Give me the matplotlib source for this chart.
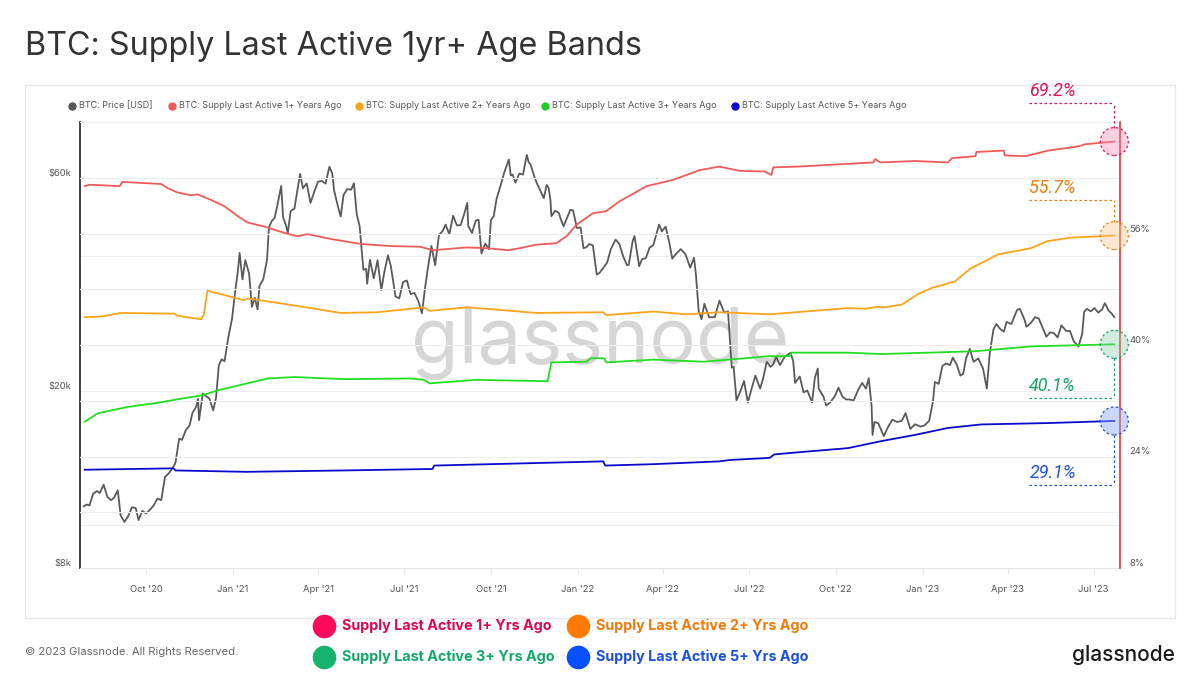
import matplotlib
matplotlib.use("Agg")
import matplotlib.pyplot as plt
import matplotlib.dates as mdates
import pandas as pd
from matplotlib.lines import Line2D
from matplotlib.patches import Rectangle
from matplotlib.transforms import IdentityTransform, blended_transform_factory

plt.rcParams['font.family'] = ['Inter', 'DejaVu Sans']

# ---------------- data ----------------
price_dates = [
    "2020-07-27", "2020-07-30", "2020-08-02", "2020-08-06", "2020-08-10", "2020-08-13", "2020-08-17", "2020-08-21",
    "2020-08-25", "2020-08-28", "2020-09-01", "2020-09-04", "2020-09-08", "2020-09-12", "2020-09-16", "2020-09-20",
    "2020-09-23", "2020-09-27", "2020-10-01", "2020-10-05", "2020-10-09", "2020-10-13", "2020-10-17", "2020-10-21",
    "2020-10-25", "2020-10-28", "2020-11-01", "2020-11-05", "2020-11-08", "2020-11-12", "2020-11-16", "2020-11-19",
    "2020-11-23", "2020-11-25", "2020-11-26", "2020-11-30", "2020-12-03", "2020-12-07", "2020-12-11", "2020-12-14",
    "2020-12-17", "2020-12-20", "2020-12-23", "2020-12-27", "2020-12-31",
    "2021-01-03", "2021-01-06", "2021-01-08", "2021-01-11", "2021-01-14", "2021-01-18", "2021-01-21", "2021-01-24",
    "2021-01-27", "2021-01-29", "2021-02-02", "2021-02-06", "2021-02-08", "2021-02-11", "2021-02-14", "2021-02-17",
    "2021-02-21", "2021-02-23", "2021-02-26", "2021-02-28", "2021-03-03", "2021-03-07", "2021-03-10", "2021-03-13",
    "2021-03-16", "2021-03-20", "2021-03-24", "2021-03-28", "2021-04-01", "2021-04-05", "2021-04-09", "2021-04-13",
    "2021-04-16", "2021-04-18", "2021-04-22", "2021-04-25", "2021-04-28", "2021-05-02", "2021-05-06", "2021-05-09",
    "2021-05-12", "2021-05-15", "2021-05-19", "2021-05-22", "2021-05-23", "2021-05-26", "2021-05-30", "2021-06-03",
    "2021-06-07", "2021-06-10", "2021-06-14", "2021-06-17", "2021-06-22", "2021-06-26", "2021-06-30", "2021-07-04",
    "2021-07-08", "2021-07-12", "2021-07-16", "2021-07-20", "2021-07-23", "2021-07-26", "2021-07-30", "2021-08-03",
    "2021-08-07", "2021-08-11", "2021-08-14", "2021-08-18", "2021-08-22", "2021-08-26", "2021-08-30", "2021-09-03",
    "2021-09-06", "2021-09-07", "2021-09-11", "2021-09-15", "2021-09-18", "2021-09-21", "2021-09-25", "2021-09-29",
    "2021-10-01", "2021-10-04", "2021-10-07", "2021-10-11", "2021-10-15", "2021-10-20", "2021-10-22", "2021-10-24",
    "2021-10-27", "2021-10-31", "2021-11-04", "2021-11-08", "2021-11-10", "2021-11-12", "2021-11-16", "2021-11-19",
    "2021-11-22", "2021-11-26", "2021-11-29", "2021-12-01", "2021-12-03", "2021-12-04", "2021-12-08", "2021-12-12",
    "2021-12-14", "2021-12-17", "2021-12-21", "2021-12-24", "2021-12-27", "2021-12-31",
    "2022-01-04", "2022-01-07", "2022-01-10", "2022-01-13", "2022-01-17", "2022-01-21", "2022-01-24", "2022-01-28",
    "2022-02-01", "2022-02-05", "2022-02-10", "2022-02-14", "2022-02-18", "2022-02-22", "2022-02-24", "2022-02-28",
    "2022-03-02", "2022-03-07", "2022-03-10", "2022-03-14", "2022-03-18", "2022-03-22", "2022-03-28", "2022-03-31",
    "2022-04-04", "2022-04-08", "2022-04-11", "2022-04-15", "2022-04-20", "2022-04-25", "2022-04-30", "2022-05-04",
    "2022-05-06", "2022-05-09", "2022-05-12", "2022-05-15", "2022-05-20", "2022-05-26", "2022-05-31", "2022-06-05",
    "2022-06-09", "2022-06-13", "2022-06-15", "2022-06-18", "2022-06-22", "2022-06-26", "2022-06-30", "2022-07-04",
    "2022-07-08", "2022-07-13", "2022-07-16", "2022-07-20", "2022-07-24", "2022-07-27", "2022-07-30", "2022-08-03",
    "2022-08-08", "2022-08-14", "2022-08-17", "2022-08-19", "2022-08-24", "2022-08-28", "2022-09-01", "2022-09-06",
    "2022-09-09", "2022-09-12", "2022-09-13", "2022-09-18", "2022-09-21", "2022-09-25", "2022-09-30", "2022-10-04",
    "2022-10-08", "2022-10-12", "2022-10-15", "2022-10-20", "2022-10-25", "2022-10-29", "2022-11-02", "2022-11-05",
    "2022-11-08", "2022-11-09", "2022-11-11", "2022-11-15", "2022-11-21", "2022-11-25", "2022-11-30", "2022-12-05",
    "2022-12-10", "2022-12-14", "2022-12-19", "2022-12-24", "2022-12-30",
    "2023-01-03", "2023-01-08", "2023-01-12", "2023-01-14", "2023-01-18", "2023-01-22", "2023-01-26", "2023-01-30",
    "2023-02-02", "2023-02-06", "2023-02-10", "2023-02-13", "2023-02-16", "2023-02-20", "2023-02-24", "2023-03-01",
    "2023-03-06", "2023-03-10", "2023-03-13", "2023-03-17", "2023-03-20", "2023-03-24", "2023-03-28", "2023-03-31",
    "2023-04-05", "2023-04-11", "2023-04-14", "2023-04-19", "2023-04-21", "2023-04-26", "2023-04-30", "2023-05-04",
    "2023-05-08", "2023-05-12", "2023-05-16", "2023-05-20", "2023-05-24", "2023-05-28", "2023-06-02", "2023-06-06",
    "2023-06-10", "2023-06-15", "2023-06-19", "2023-06-21", "2023-06-24", "2023-06-28", "2023-07-02", "2023-07-06",
    "2023-07-10", "2023-07-13", "2023-07-17", "2023-07-20", "2023-07-23",
]
price_values = [
    11000, 11100, 11050, 11750, 11900, 11780, 12300, 11550,
    11350, 11500, 11950, 10500, 10150, 10450, 10950, 10900,
    10250, 10750, 10600, 10800, 11050, 11450, 11350, 12800,
    13050, 13300, 13750, 15600, 15500, 16300, 16700, 17800,
    18400, 19150, 17150, 19700, 19450, 19200, 18050, 19250,
    22800, 23500, 23250, 26300, 29000,
    33000, 36800, 40700, 35500, 39200, 36600, 30800, 32300,
    30400, 34300, 35500, 39300, 46400, 48000, 48700, 52100,
    57500, 48900, 47000, 45100, 50500, 51200, 55900, 61200,
    56800, 58300, 52700, 55800, 58800, 59000, 58200, 63500,
    61400, 56200, 51800, 49100, 54900, 56600, 56400, 58300,
    49600, 46800, 37300, 37500, 34700, 39300, 35700, 39200,
    33600, 36700, 40200, 38100, 32500, 32200, 35000, 35300,
    32900, 33100, 31800, 29800, 33600, 37300, 42200, 38200,
    44600, 45600, 47100, 44800, 49300, 46900, 47000, 50000,
    52700, 46800, 45100, 48100, 48300, 40600, 42700, 41500,
    48200, 49200, 53800, 57400, 61500, 65900, 60700, 61000,
    58500, 61300, 61000, 67500, 65000, 64200, 60300, 58100,
    56300, 54000, 57800, 57000, 53600, 49200, 50600, 50000,
    48400, 46700, 49000, 50800, 50700, 46300,
    46400, 41700, 41900, 42600, 42300, 36400, 36700, 37700,
    38700, 41500, 43600, 42600, 40000, 38200, 38300, 43200,
    44400, 38000, 39400, 39600, 41800, 42400, 47100, 45500,
    46600, 42800, 39500, 40500, 41500, 40400, 37700, 39700,
    36500, 30100, 28900, 31300, 29200, 29200, 31800, 29900,
    30100, 22500, 22600, 19000, 19900, 21000, 18800, 20200,
    21600, 20200, 21200, 23200, 22600, 22900, 23800, 22800,
    23800, 24300, 23300, 20800, 21500, 19800, 20000, 18800,
    21400, 22400, 20200, 19400, 18500, 18800, 19400, 20300,
    19400, 19100, 19100, 19000, 20100, 20800, 20200, 21300,
    18500, 15900, 17000, 16900, 15800, 16500, 17200, 17000,
    17100, 17800, 16400, 16800, 16600,
    16700, 17100, 18900, 20900, 20700, 22700, 23000, 22800,
    23700, 22900, 21600, 21800, 23600, 24800, 23200, 23600,
    22400, 20200, 24100, 27400, 28200, 27500, 27100, 28500,
    28200, 30300, 30500, 28800, 27800, 28400, 29200, 29000,
    27700, 26400, 27000, 26900, 26300, 28000, 27200, 27200,
    25800, 25100, 26800, 30000, 30500, 30100, 30600, 29900,
    30400, 31400, 30200, 29800, 29200,
]

s1_dates = ["2020-07-28", "2020-08-02", "2020-09-03", "2020-09-06", "2020-10-17", "2020-10-24", "2020-11-03",
            "2020-11-17", "2020-11-25", "2020-12-09", "2020-12-23", "2021-01-06", "2021-01-16", "2021-02-03",
            "2021-02-24", "2021-03-10", "2021-03-21", "2021-04-15", "2021-05-16", "2021-06-17", "2021-07-18",
            "2021-08-01", "2021-09-05", "2021-09-26", "2021-10-19", "2021-11-01", "2021-11-18", "2021-12-09",
            "2021-12-20", "2021-12-31", "2022-01-17", "2022-01-31", "2022-02-14", "2022-03-15", "2022-04-12",
            "2022-04-26", "2022-05-10", "2022-05-31", "2022-06-21", "2022-07-18", "2022-07-25", "2022-07-27",
            "2022-08-22", "2022-10-14", "2022-11-10", "2022-11-12", "2022-11-17", "2022-12-24", "2023-01-28",
            "2023-02-01", "2023-02-26", "2023-02-27", "2023-03-28", "2023-03-29", "2023-04-20", "2023-05-14",
            "2023-06-15", "2023-06-22", "2023-07-23"]
s1_values = [62.8, 63.0, 62.8, 63.4, 63.1, 62.5, 61.9,
             61.5, 61.6, 60.8, 59.9, 58.5, 57.6, 57.0,
             56.1, 55.6, 55.9, 55.2, 54.5, 54.2, 54.1,
             53.6, 54.0, 53.9, 53.6, 53.9, 54.4, 54.6,
             55.6, 57.3, 58.9, 59.2, 60.6, 62.8, 63.7,
             64.4, 65.1, 65.6, 65.0, 64.9, 64.4, 65.5,
             65.6, 66.0, 66.2, 66.7, 66.2, 66.4, 66.2,
             66.8, 67.1, 67.7, 67.9, 67.2, 67.1, 67.9,
             68.5, 68.8, 69.2]

s2_dates = ["2020-07-28", "2020-08-15", "2020-09-04", "2020-10-31", "2020-11-03", "2020-11-28", "2020-12-01",
            "2020-12-05", "2021-01-02", "2021-01-13", "2021-01-16", "2021-02-24", "2021-03-24", "2021-04-25",
            "2021-06-03", "2021-07-22", "2021-07-28", "2021-09-05", "2021-09-26", "2021-11-18", "2022-01-28",
            "2022-01-31", "2022-03-22", "2022-04-26", "2022-05-31", "2022-07-23", "2022-10-14", "2022-11-01",
            "2022-11-15", "2022-11-22", "2022-12-10", "2022-12-27", "2023-01-11", "2023-02-04", "2023-02-21",
            "2023-03-22", "2023-04-26", "2023-05-13", "2023-06-07", "2023-07-23"]
s2_values = [44.0, 44.1, 44.6, 44.5, 44.2, 43.7, 44.3,
             47.8, 46.8, 46.4, 46.7, 45.9, 45.3, 44.6,
             44.7, 45.4, 44.9, 45.4, 45.2, 44.6, 44.7,
             44.3, 44.8, 44.4, 44.7, 44.4, 45.3, 45.2,
             45.5, 45.4, 45.8, 47.3, 48.2, 49.1, 51.0,
             53.0, 53.9, 54.9, 55.4, 55.7]

s3_dates = ["2020-07-28", "2020-08-11", "2020-09-11", "2020-10-13", "2020-11-03", "2020-11-30", "2020-12-16",
            "2021-01-13", "2021-02-07", "2021-03-07", "2021-04-29", "2021-07-08", "2021-07-22", "2021-07-28",
            "2021-09-15", "2021-11-30", "2021-12-04", "2022-01-10", "2022-01-15", "2022-01-29", "2022-01-31",
            "2022-03-22", "2022-05-14", "2022-07-23", "2022-08-13", "2022-08-15", "2022-10-14", "2022-11-18",
            "2023-02-25", "2023-04-26", "2023-07-23"]
s3_values = [29.0, 30.2, 31.1, 31.7, 32.2, 32.8, 33.5,
             34.4, 35.2, 35.4, 35.1, 35.2, 35.0, 34.5,
             35.0, 34.8, 37.5, 37.6, 38.1, 38.1, 37.5,
             37.9, 37.6, 38.4, 38.4, 38.9, 38.9, 38.7,
             39.1, 39.8, 40.1]

s5_dates = ["2020-07-28", "2020-10-30", "2020-11-01", "2021-01-15", "2021-04-29", "2021-07-26", "2021-07-31",
            "2021-08-02", "2022-01-28", "2022-01-30", "2022-03-22", "2022-05-31", "2022-06-11", "2022-07-23",
            "2022-07-28", "2022-08-22", "2022-10-14", "2022-11-18", "2022-12-24", "2023-01-28", "2023-03-04",
            "2023-05-14", "2023-07-23"]
s5_values = [22.1, 22.3, 22.0, 21.8, 22.0, 22.2, 22.2,
             22.7, 23.3, 22.7, 22.9, 23.3, 23.5, 23.8,
             24.3, 24.6, 25.2, 26.2, 27.1, 28.1, 28.6,
             28.8, 29.1]

legend_top = ["BTC: Price [USD]", "BTC: Supply Last Active 1+ Years Ago", "BTC: Supply Last Active 2+ Years Ago",
              "BTC: Supply Last Active 3+ Years Ago", "BTC: Supply Last Active 5+ Years Ago"]
legend_bottom = ["Supply Last Active 1+ Yrs Ago", "Supply Last Active 2+ Yrs Ago",
                 "Supply Last Active 3+ Yrs Ago", "Supply Last Active 5+ Yrs Ago"]
end_labels = ["69.2%", "55.7%", "40.1%", "29.1%"]

price_ticks = [8000, 20000, 60000]
price_ticklabels = ["$8k", "$20k", "$60k"]
pct_ticks = [8, 24, 40, 56]
pct_ticklabels = ["8%", "24%", "40%", "56%"]

# ---------------- styling ----------------
W, H = 1200, 691
line_cols = ["#ef5b5b", "#f9a41c", "#22dd22", "#0a0acc"]
price_col = "#5a5a5a"
dot_cols = ["#555555", "#ef5b5b", "#f9a41c", "#22cc22", "#0a0ad0"]
ann_cols = ["#e0125a", "#ef7a10", "#14a566", "#2350de"]
fill_cols = [(0.96, 0.55, 0.72, 0.40), (0.98, 0.78, 0.55, 0.40), (0.55, 0.82, 0.68, 0.40), (0.55, 0.66, 0.94, 0.45)]
leg_circle_cols = ["#ff0a5a", "#ff7a05", "#14b36e", "#0650ff"]
leg_text_cols = ["#e0064f", "#f07a0a", "#12a868", "#1a4fe0"]


def fx(x):
    return x / W


def fy(y):
    return 1 - y / H


fig = plt.figure(figsize=(12, 6.91), dpi=100)
fig.patch.set_facecolor("white")

# card border
fig.add_artist(Rectangle((fx(25), fy(618)), fx(1175) - fx(25), fy(85) - fy(618),
                         transform=fig.transFigure, fill=False, edgecolor="#e8e8e8", lw=1.0))

ax = fig.add_axes([fx(80), fy(568), fx(1120) - fx(80), fy(122) - fy(568)])
ax.set_facecolor("none")
ax2 = ax.twinx()

pd_price = pd.to_datetime(price_dates)
ax.plot(pd_price, price_values, color=price_col, lw=1.3, zorder=3)
ax.set_yscale("log")
ax.set_ylim(8000, 80000)
ax.set_xlim(pd.Timestamp("2020-07-23"), pd.Timestamp("2023-07-29"))
ax.yaxis.set_major_locator(matplotlib.ticker.NullLocator())
ax.yaxis.set_minor_locator(matplotlib.ticker.NullLocator())

series = [(s1_dates, s1_values), (s2_dates, s2_values), (s3_dates, s3_values), (s5_dates, s5_values)]
for (d, v), c in zip(series, line_cols):
    ax2.plot(pd.to_datetime(d), v, color=c, lw=1.3, zorder=4)
ax2.set_ylim(8, 72)
ax2.set_yticks([])

# gridlines
for g in [16, 24, 32, 40, 48, 56, 64, 72]:
    ax2.axhline(g, color="#ededed", lw=0.8, zorder=0)
for g in [10000, 20000, 40000]:
    ax.axhline(g, color="#ededed", lw=0.8, zorder=0)

# tick labels (drawn just above their gridlines)
tl = blended_transform_factory(ax.transAxes, ax.transData)
for v, lab in zip(price_ticks, price_ticklabels):
    ax.text(-0.008, v, lab, transform=tl, ha="right", va="bottom", fontsize=6.8, color="#555555")
tr = blended_transform_factory(ax2.transAxes, ax2.transData)
for v, lab in zip(pct_ticks, pct_ticklabels):
    ax2.text(1.009, v, lab, transform=tr, ha="left", va="bottom", fontsize=6.8, color="#555555")

# x axis
ax.xaxis.set_major_locator(mdates.MonthLocator(bymonth=[1, 4, 7, 10]))
ax.xaxis.set_major_formatter(mdates.DateFormatter("%b '%y"))
ax.tick_params(axis="x", length=4, color="#e6e6e6", labelsize=6.8, labelcolor="#555555", pad=8)
for a in (ax, ax2):
    for s in ("top", "right", "left", "bottom"):
        a.spines[s].set_visible(False)
ax.spines["bottom"].set_visible(True)
ax.spines["bottom"].set_color("#e6e6e6")
ax.spines["left"].set_visible(True)
ax.spines["left"].set_color("#333333")
ax.spines["left"].set_linewidth(1.3)
ax2.spines["right"].set_visible(True)
ax2.spines["right"].set_color("#f03c3c")
ax2.spines["right"].set_linewidth(1.3)

# watermark
ax.text(0.5, 0.505, "glassnode", transform=ax.transAxes, ha="center", va="center",
        fontsize=56, color="#d6d6d6", zorder=1)

# end-point circles and dashed annotations
fig.canvas.draw()
geom = [(-1, 14, 39, 12), (-1, 14, 36, 12), (1, 14, 54, 12), (1, 14, 64, 12)]
for (d, v), lab, ac, fc, (dirn, r, hoff, toff) in zip(series, end_labels, ann_cols, fill_cols, geom):
    xd = mdates.date2num(pd.Timestamp(d[-1]))
    ax2.scatter([pd.Timestamp(d[-1])], [v[-1]], s=(2 * r * 0.72) ** 2, facecolor=fc, edgecolor=ac,
                linestyle=(0, (2, 2)), lw=0.9, zorder=6, clip_on=False)
    px, py = ax2.transData.transform((xd, v[-1]))
    if dirn < 0:
        y0 = py + r
        y1 = py + hoff
    else:
        y0 = py - r
        y1 = py - hoff
    ty = y1 + toff
    xl = px - 85
    fig.add_artist(Line2D([px, px], [y0, y1], transform=IdentityTransform(), color=ac, lw=0.9,
                          linestyle=(0, (2, 2))))
    fig.add_artist(Line2D([xl, px], [y1, y1], transform=IdentityTransform(), color=ac, lw=0.9,
                          linestyle=(0, (2, 2))))
    fig.text(xl / W, ty / H, lab, ha="left", va="center", fontsize=13, color=ac,
             family=["Roboto", "DejaVu Sans"], style="italic", fontweight="normal")

# top legend
top_pos = [(72, 79), (172, 179), (359, 366), (545, 552), (735, 742)]
for (dx, tx), lab, c in zip(top_pos, legend_top, dot_cols):
    fig.add_artist(Line2D([fx(dx)], [fy(106)], marker="o", markersize=5, color=c, transform=fig.transFigure))
    fig.text(fx(tx), fy(106), lab, ha="left", va="center", fontsize=6.5, color="#555555")

# title
fig.text(fx(25), fy(47), "BTC: Supply Last Active 1yr+ Age Bands", ha="left", va="center",
         fontsize=23.3, color="#333333")

# bottom legend
bot_pos = [(324, 626), (578, 626), (324, 657), (578, 657)]
for (cx, cy), lab, cc, tc in zip(bot_pos, legend_bottom, leg_circle_cols, leg_text_cols):
    fig.add_artist(Line2D([fx(cx)], [fy(cy)], marker="o", markersize=16, color=cc, transform=fig.transFigure))
    fig.text(fx(cx + 18), fy(cy), lab, ha="left", va="center", fontsize=10.3, fontweight="bold", color=tc)

# footer
fig.text(fx(25), fy(652), "\u00a9 2023 Glassnode. All Rights Reserved.", ha="left", va="center",
         fontsize=8.1, color="#666666")
fig.text(fx(1175), fy(655), "glassnode", ha="right", va="center", fontsize=15, color="#1a1a1a",
         fontweight="medium")

fig.savefig("out.png", dpi=100, facecolor="white")
